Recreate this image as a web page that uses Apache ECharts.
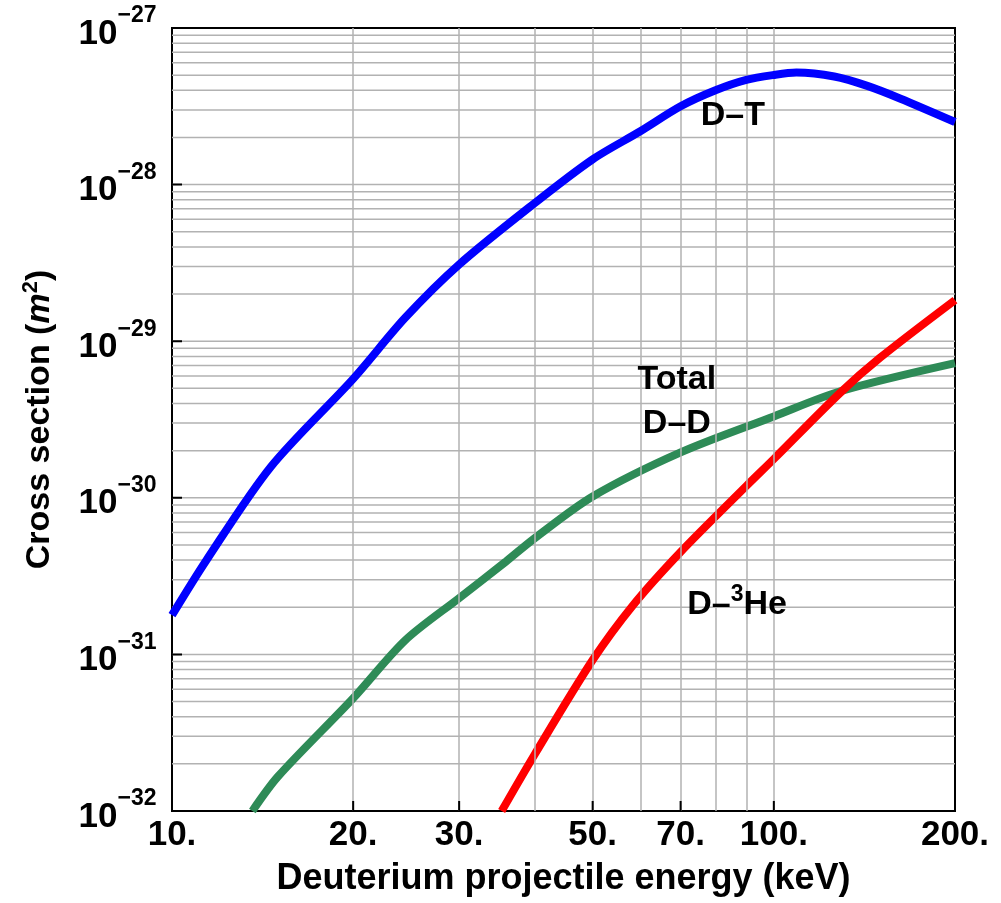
<!DOCTYPE html>
<html><head><meta charset="utf-8">
<script src="https://cdn.jsdelivr.net/npm/echarts@6.0.0/dist/echarts.min.js"></script>
<style>html,body{margin:0;padding:0;background:#fff}#c{width:1001px;height:903px}</style>
</head><body><div id="c"></div>
<script>
// D-T cross section (m^2) vs deuteron energy (keV)
const energyDT = [10, 11.4, 14.6, 20, 24.4, 30, 40, 50, 60, 70, 80, 90, 100, 109, 126, 143, 162, 200];
const sigmaDT = [1.78e-31, 3.98e-31, 1.58e-30, 5.75e-30, 1.41e-29, 3.09e-29, 7.59e-29, 1.45e-28, 2.19e-28, 3.16e-28, 4.00e-28, 4.66e-28, 5.01e-28, 5.19e-28, 4.90e-28, 4.27e-28, 3.55e-28, 2.51e-28];
// Total D-D cross section
const energyDD = [13.6, 15.0, 20, 24.4, 30, 35.8, 40, 50, 70, 100, 129, 200];
const sigmaDD = [1.0e-32, 1.66e-32, 5.25e-32, 1.23e-31, 2.29e-31, 3.89e-31, 5.50e-31, 1.02e-30, 1.95e-30, 3.31e-30, 4.79e-30, 7.24e-30];
// D-3He cross section
const energyDHe = [35.3, 40, 50, 58.4, 70, 90, 100, 128.8, 150, 200];
const sigmaDHe = [1.0e-32, 2.28e-32, 9.2e-32, 2.07e-31, 4.51e-31, 1.19e-30, 1.77e-30, 4.67e-30, 7.82e-30, 1.83e-29];

// axis ticks / grid
const xTickLabels = [10, 20, 30, 50, 70, 100, 200];
const xTickMarks = [20, 30, 50, 70, 100];
const xGridValues = [20, 30, 40, 50, 60, 70, 80, 90, 100];
const yTickLabels = [1e-32, 1e-31, 1e-30, 1e-29, 1e-28, 1e-27];
const yTickExponents = [-32, -31, -30, -29, -28, -27];
const yTickMarks = [1e-31, 1e-30, 1e-29, 1e-28];
const yDecades = [1e-32, 1e-31, 1e-30, 1e-29, 1e-28];
const yMultipliers = [1, 2, 3, 4, 5, 6, 7, 8, 9];

// curve annotations
const annotationTexts = ['{a|D–T}', '{a|Total}\n{a|D–D}', '{a|D–}{s|3}{a|He}'];
const annotationEnergy = [85.5, 69.0, 86.9];
const annotationSigma = [2.76e-28, 4.09e-30, 2.07e-31];

const FONT = 'Liberation Sans';
const Y_MIN = 1e-32, Y_MAX = 1e-27, X_MIN = 10, X_MAX = 200;
const Y_TICK_FACTOR = 1.158; // ~10 px along the y log scale
const X_TICK_FACTOR = 1.039; // ~10 px along the x log scale
const zip = (xs, ys) => xs.map((x, i) => [x, ys[i]]);

const yGridValues = [];
yDecades.forEach(d => yMultipliers.forEach(m => {
  const v = m * d;
  if (v > Y_MIN * 1.0001) yGridValues.push(v);
}));
// segments separated by gaps
const hGridData = [];
yGridValues.forEach(v => { hGridData.push([X_MIN, v], [X_MAX, v], [X_MAX, '-']); });
const yTickData = [];
yTickMarks.forEach(v => { yTickData.push([X_MIN, v], [X_MIN * X_TICK_FACTOR, v], [X_MIN, '-']); });
const xTickData = [];
xTickMarks.forEach(v => { xTickData.push([v, Y_MIN], [v, Y_MIN * Y_TICK_FACTOR], [v, '-']); });

const gridLineStyle = { color: '#b2b2b2', width: 1.5, type: 'solid' };
const plainText = { color: '#000', textBorderWidth: 0, textShadowBlur: 0, opacity: 1 };

const chart = echarts.init(document.getElementById('c'), null, { renderer: 'canvas' });
chart.setOption({
  animation: false,
  backgroundColor: '#fff',
  grid: { left: 172, top: 28, right: 46, bottom: 92, containLabel: false, outerBoundsMode: 'none',
    show: true, borderColor: '#000', borderWidth: 2, backgroundColor: 'transparent' },
  xAxis: {
    type: 'log', logBase: 10, min: X_MIN, max: X_MAX,
    name: 'Deuterium projectile energy (keV)',
    nameLocation: 'middle', nameGap: 50, nameMoveOverlap: false,
    nameTextStyle: { fontFamily: FONT, fontWeight: 'bold', fontSize: 36, color: '#000' },
    axisLine: { show: true, lineStyle: { color: '#000', width: 2 } },
    axisTick: { show: false },
    axisLabel: { show: false },
    splitLine: { show: false }
  },
  yAxis: {
    type: 'log', logBase: 10, min: Y_MIN, max: Y_MAX,
    name: '{a|Cross section (}{i|m}{s|2}{a|)}',
    nameLocation: 'middle', nameGap: 112, nameRotate: 90, nameMoveOverlap: false,
    nameTextStyle: {
      color: '#000',
      rich: {
        a: { fontFamily: FONT, fontWeight: 'bold', fontSize: 34, lineHeight: 40, color: '#000' },
        i: { fontFamily: FONT, fontWeight: 'bold', fontStyle: 'italic', fontSize: 34, lineHeight: 40, color: '#000' },
        s: { fontFamily: FONT, fontWeight: 'bold', fontSize: 22, lineHeight: 22, verticalAlign: 'top', color: '#000' }
      }
    },
    axisLine: { show: true, lineStyle: { color: '#000', width: 2 } },
    axisTick: { show: false },
    axisLabel: { show: false },
    splitLine: { show: false }
  },
  series: [
    {
      name: 'vgrid', type: 'line', data: [[X_MIN, Y_MAX]], showSymbol: false, silent: true, z: 1,
      lineStyle: { width: 0 },
      markLine: {
        silent: true, symbol: ['none', 'none'], animation: false,
        label: { show: false }, lineStyle: gridLineStyle,
        emphasis: { disabled: true },
        data: xGridValues.map(v => ({ xAxis: v }))
      }
    },
    { name: 'hgrid', type: 'line', data: hGridData, showSymbol: false, silent: true, z: 1,
      connectNulls: false, lineStyle: gridLineStyle },
    { name: 'yticks', type: 'line', data: yTickData, showSymbol: false, silent: true, z: 8,
      connectNulls: false, lineStyle: { color: '#000', width: 2 } },
    { name: 'xticks', type: 'line', data: xTickData, showSymbol: false, silent: true, z: 8,
      connectNulls: false, lineStyle: { color: '#000', width: 2 } },
    { name: 'Total D-D', type: 'line', data: zip(energyDD, sigmaDD), showSymbol: false, smooth: 0.3, z: 3,
      lineStyle: { color: '#2e8b57', width: 8 }, itemStyle: { color: '#2e8b57' } },
    { name: 'D-3He', type: 'line', data: zip(energyDHe, sigmaDHe), showSymbol: false, smooth: 0.3, z: 4,
      lineStyle: { color: '#ff0000', width: 8 }, itemStyle: { color: '#ff0000' } },
    { name: 'D-T', type: 'line', data: zip(energyDT, sigmaDT), showSymbol: false, smooth: 0.3, z: 5,
      lineStyle: { color: '#0000ff', width: 8 }, itemStyle: { color: '#0000ff' } },
    {
      name: 'xlabels', type: 'scatter', z: 6, silent: true, clip: false,
      data: xTickLabels.map(v => [v, Y_MIN]),
      symbolSize: 1, itemStyle: { color: 'rgba(255,255,255,0)' },
      label: Object.assign({
        show: true, position: 'bottom', distance: 6,
        formatter: p => xTickLabels[p.dataIndex] + '.',
        fontFamily: FONT, fontWeight: 'bold', fontSize: 35
      }, plainText)
    },
    {
      name: 'ylabels', type: 'scatter', z: 6, silent: true, clip: false,
      data: yTickLabels.map(v => [X_MIN, v]),
      symbolSize: 1, itemStyle: { color: 'rgba(255,255,255,0)' },
      label: Object.assign({
        show: true, position: 'left', distance: 15,
        formatter: p => '{b|10}{s|−' + (-yTickExponents[p.dataIndex]) + '}',
        rich: {
          b: Object.assign({ fontFamily: FONT, fontWeight: 'bold', fontSize: 35, lineHeight: 47, verticalAlign: 'bottom' }, plainText),
          s: Object.assign({ fontFamily: FONT, fontWeight: 'bold', fontSize: 23, lineHeight: 23, verticalAlign: 'top' }, plainText)
        }
      }, plainText)
    },
    {
      name: 'labels', type: 'scatter', z: 6, silent: true,
      data: zip(annotationEnergy, annotationSigma),
      symbolSize: 1, itemStyle: { color: 'rgba(255,255,255,0)' },
      label: Object.assign({
        show: true, position: 'inside', align: 'center', verticalAlign: 'middle',
        formatter: p => annotationTexts[p.dataIndex],
        rich: {
          a: Object.assign({ fontFamily: FONT, fontWeight: 'bold', fontSize: 34, lineHeight: 44 }, plainText),
          s: Object.assign({ fontFamily: FONT, fontWeight: 'bold', fontSize: 23, lineHeight: 23, verticalAlign: 'top' }, plainText)
        }
      }, plainText)
    }
  ]
});
</script>
</body></html>
